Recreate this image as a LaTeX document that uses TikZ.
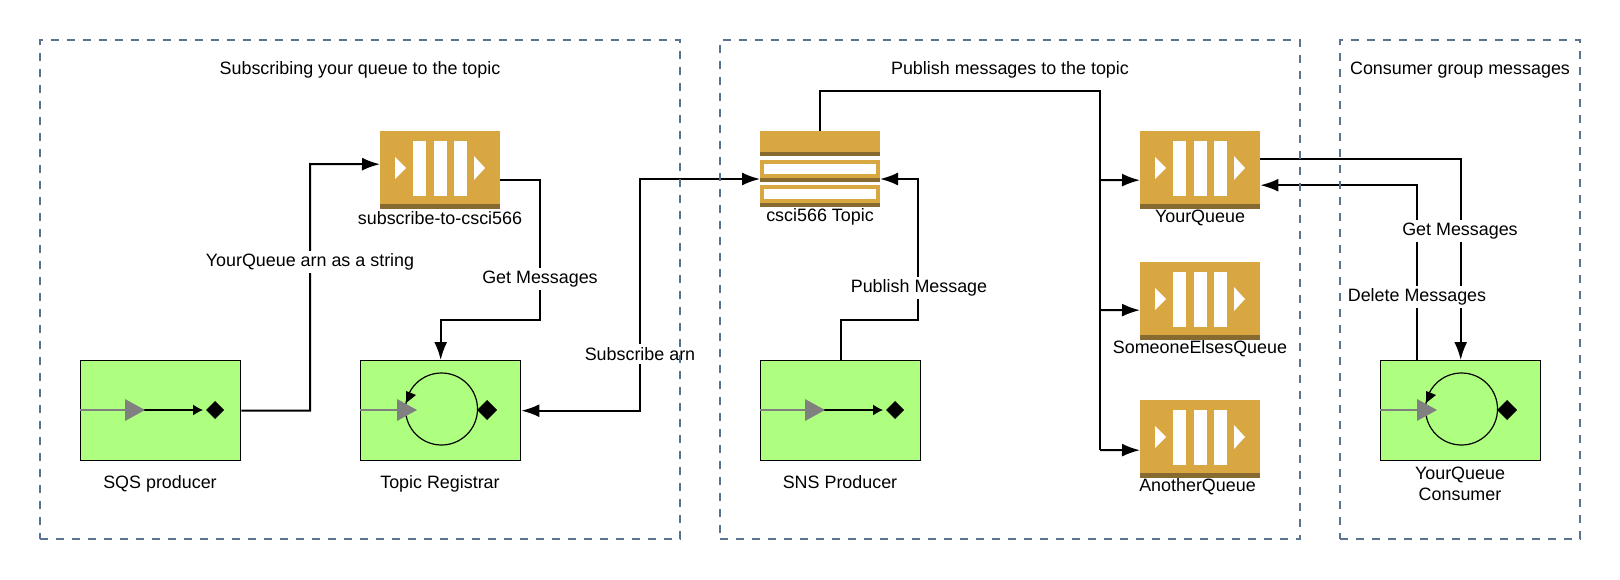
\documentclass[tikz,border=0pt]{standalone}
\usepackage{fontspec}
\setmainfont{Liberation Sans}
\usetikzlibrary{arrows.meta}
\definecolor{queuegold}{HTML}{D9A741}
\definecolor{queuedark}{HTML}{876A2F}
\definecolor{lambdagreen}{HTML}{AEFF80}
\definecolor{panelblue}{HTML}{5B7290}
\tikzset{
  panel/.style={draw=panelblue, line width=1.8pt, dash pattern=on 8pt off 8pt, rectangle, inner sep=0pt},
  queuebox/.style={fill=queuegold, rectangle, anchor=north west, minimum width=120pt, minimum height=78pt, inner sep=0pt},
  lambdabox/.style={draw=black, line width=1.4pt, fill=lambdagreen, rectangle, anchor=north west, minimum width=160pt, minimum height=100pt, inner sep=0pt},
  caption/.style={font=\fontsize{17.9}{21.5}\selectfont, inner sep=0pt, align=center},
  linklabel/.style={caption, fill=white, inner ysep=3pt, inner xsep=1pt},
  link/.style={line width=2pt, -{Latex[length=18pt, width=13pt]}},
  twolink/.style={line width=2pt, {Latex[length=18pt, width=13pt]}-{Latex[length=18pt, width=13pt]}},
}

\begin{document}
\begin{tikzpicture}[x=1pt, y=-1pt]
\useasboundingbox (0,0) rectangle (1620,580);

%draw queues
\foreach \Name/\X/\Y/\Yl/\Text in {%
    subscribeQueue/380/131/218/subscribe-to-csci566,
    yourQueue/1140/131/218/YourQueue,
    elsesQueue/1140/262/349/SomeoneElsesQueue,
    anotherQueue/1140/400/487/AnotherQueue
    }{
  \node[queuebox] (\Name) at (\X,\Y) {};
  \begin{scope}[shift=(\Name.north west)]
    \fill[queuedark] (0,73) rectangle (120,78);
    \foreach \xBar in {33,54,74}
      \fill[white] (\xBar,10) rectangle ++(13,55);
    \fill[white] (15,26) -- (26,37) -- (15,48) -- cycle;
    \fill[white] (94,25) -- (105,37) -- (94,49) -- cycle;
  \end{scope}
  \node[caption] (\Name Text) at (\X+60,\Yl) {\Text};
}

%draw topic
\node[queuebox, minimum height=25pt] (topic) at (760,131) {};
\fill[queuedark] (topic.south west) rectangle ++(120,-4);
\foreach \yBand in {160,185}{
  \fill[queuegold] (760,\yBand) rectangle ++(120,22);
  \fill[queuedark] (760,\yBand+18) rectangle ++(120,4);
  \fill[white] (764,\yBand+4) rectangle ++(112,10);
}
\coordinate (topicIn) at (760,179);
\coordinate (topicOut) at (880,179);
\node[caption] at (820,217) (topicText) {csci566 Topic};

%draw producers
\foreach \Name/\X/\Yl/\Text in {sqsProducer/80/484/SQS producer, snsProducer/760/482/SNS Producer}{
  \node[lambdabox] (\Name) at (\X,360) {};
  \begin{scope}[shift=(\Name.north west)]
    \draw[gray, line width=1.4pt] (0,50) -- (50,50);
    \draw[line width=1.2pt, -{Latex[length=10pt, width=11pt]}] (60,50) -- (123,50);
    \fill[gray] (45,39) -- (65,50) -- (45,61) -- cycle;
    \fill (126,50) -- (135,41) -- (144,50) -- (135,59) -- cycle;
  \end{scope}
  \node[caption] (\Name Text) at (\X+80,\Yl) {\Text};
}

%draw pollers
\foreach \Name/\X in {topicRegistrar/360, queueConsumer/1380}{
  \node[lambdabox] (\Name) at (\X,360) {};
  \begin{scope}[shift=(\Name.north west)]
    \draw[gray, line width=1.4pt] (0,50) -- (45,50);
    \draw[line width=1.2pt] (81.5,49) circle[radius=36];
    \fill (46,43) -- (46,31) -- (56,35) -- cycle;
    \fill[gray] (37,39) -- (57,50) -- (37,61) -- cycle;
    \fill (117,50) -- (127,40) -- (137,50) -- (127,60) -- cycle;
  \end{scope}
}
\node[caption] (topicRegistrarText) at (440,484) {Topic Registrar};
\node[caption] (queueConsumerText) at (1460,484) {YourQueue\\Consumer};

%draw links
\draw[link] (sqsProducer.east) -| (310,164) -- ([yshift=6pt] subscribeQueue.west);
\draw[link] ([yshift=-10pt] subscribeQueue.east) -| (540,320) -| (topicRegistrar.north);
\draw[twolink] (topicRegistrar.east) -| (640,179) -- (topicIn);
\draw[link] (snsProducer.north) |- (918,320) |- (topicOut);
\draw[line width=2pt] (topic.north) |- (1100,91) -- (1100,450);
\draw[link] (1100,180) -- ([yshift=-10pt] yourQueue.west);
\draw[link] (1100,310) -- ([yshift=-9pt] elsesQueue.west);
\draw[link] (1100,450) -- ([yshift=-11pt] anotherQueue.west);
\draw[link] ([yshift=11pt] yourQueue.east) -| (queueConsumer.north);
\draw[link] ([xshift=-44pt] queueConsumer.north) |- ([yshift=-15pt] yourQueue.east);

%draw labels
\node[linklabel] (arnLabel) at (310,262) {YourQueue arn as a string};
\node[linklabel] (getLabel) at (540,279) {Get Messages};
\node[linklabel] (subscribeLabel) at (640,354) {Subscribe arn};
\node[linklabel] (publishLabel) at (919,288) {Publish Message};
\node[linklabel] (consumerGetLabel) at (1460,231) {Get Messages};
\node[linklabel] (deleteLabel) at (1417,297) {Delete Messages};

%draw panels
\foreach \Name/\X/\W in {subscribing/360/640, publishing/1010/580, consuming/1460/240}
  \node[panel, minimum width=\W pt, minimum height=499pt] (\Name) at (\X,289.5) {};
\node[caption] (subscribingTitle) at (360,70) {Subscribing your queue to the topic};
\node[caption] (publishingTitle) at (1010,70) {Publish messages to the topic};
\node[caption] (consumingTitle) at (1460,70) {Consumer group messages};
\end{tikzpicture}
\end{document}
